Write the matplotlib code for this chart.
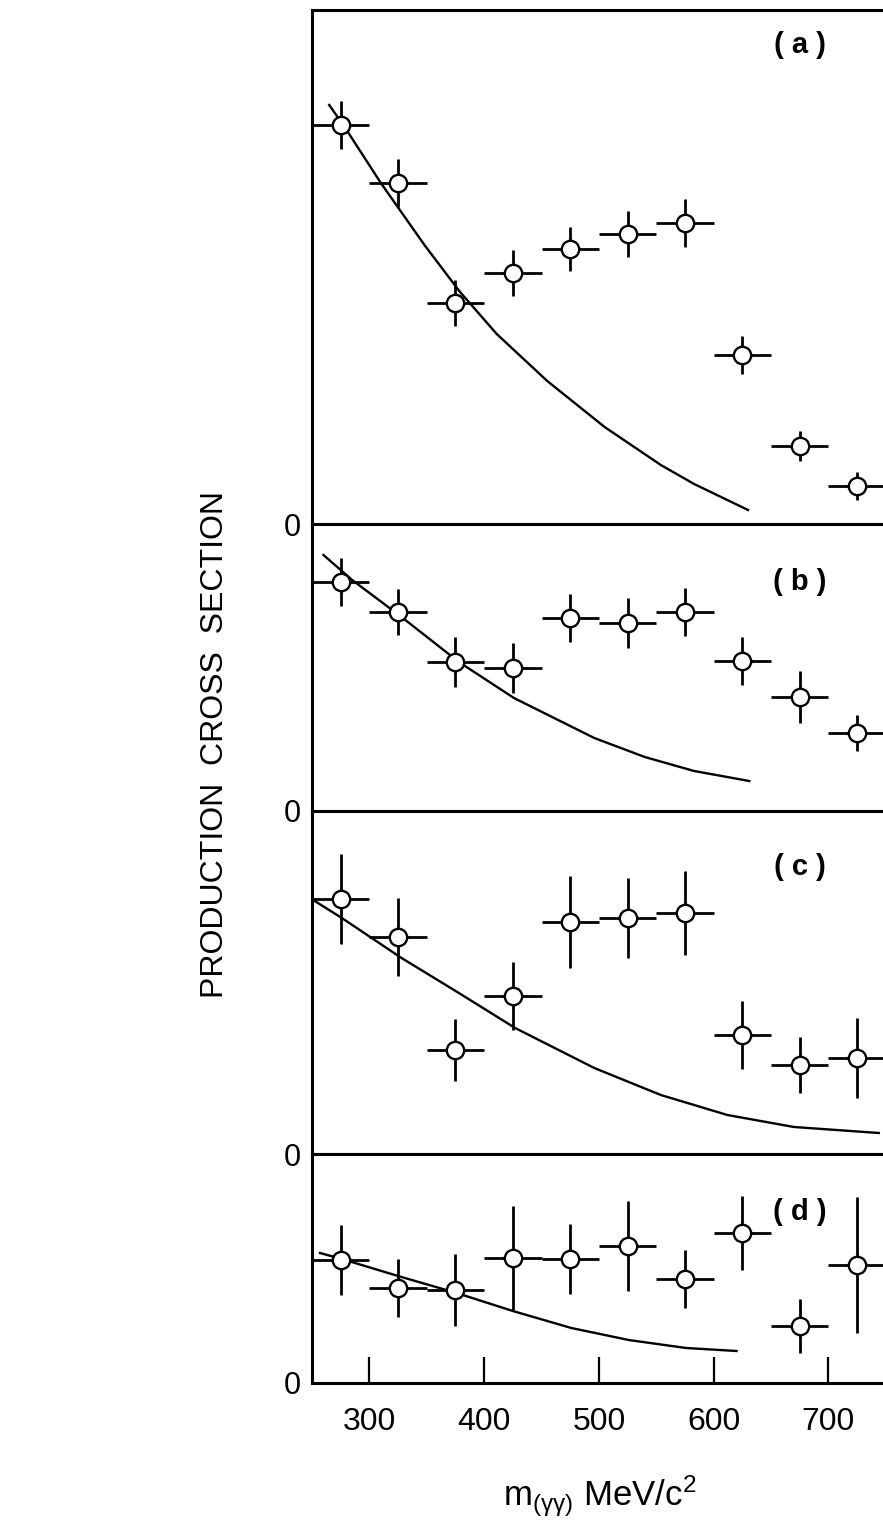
import matplotlib
matplotlib.use("Agg")
import matplotlib.pyplot as plt

plt.rcParams['font.family'] = ['Liberation Sans', 'DejaVu Sans']
plt.rcParams['mathtext.fontset'] = 'custom'
plt.rcParams['mathtext.rm'] = 'Liberation Sans'
plt.rcParams['mathtext.it'] = 'Liberation Sans'

# ---------------- data (arbitrary units) ----------------
mass = [275, 325, 375, 425, 475, 525, 575, 625, 675, 725]   # MeV/c^2, bin centres
half_bin = 25

a_y   = [39.9, 34.1, 22.1, 25.1, 27.5, 29.0, 30.1, 16.9, 7.8, 3.8]
a_err = [2.4, 2.4, 2.3, 2.3, 2.2, 2.3, 2.4, 1.9, 1.5, 1.4]
b_y   = [22.9, 19.9, 14.9, 14.3, 19.3, 18.8, 19.9, 15.0, 11.4, 7.8]
b_err = [2.4, 2.3, 2.5, 2.5, 2.4, 2.5, 2.4, 2.4, 2.6, 1.8]
c_y   = [25.5, 21.7, 10.4, 15.8, 23.2, 23.6, 24.1, 11.9, 8.9, 9.6]
c_err = [4.5, 3.9, 3.1, 3.4, 4.6, 4.0, 4.2, 3.4, 2.8, 4.0]
d_y   = [12.3, 9.5, 9.3, 12.5, 12.4, 13.7, 10.4, 15.0, 5.7, 11.8]
d_err = [3.5, 2.9, 3.6, 5.2, 3.5, 4.5, 2.9, 3.7, 2.7, 6.8]

# theoretical curves
a_cm = [265, 279, 310, 348, 379, 411, 455, 505, 554, 583, 630]
a_cv = [41.9, 39.6, 34.1, 27.9, 23.2, 19.0, 14.3, 9.7, 5.9, 4.0, 1.4]
b_cm = [260, 285, 328, 378, 426, 496, 540, 583, 631]
b_cv = [25.6, 23.1, 19.4, 14.9, 11.3, 7.3, 5.4, 4.0, 3.0]
c_cm = [251, 276, 328, 378, 427, 496, 554, 612, 670, 744]
c_cv = [25.4, 23.6, 19.6, 16.1, 12.6, 8.6, 5.9, 3.9, 2.7, 2.1]
d_cm = [257, 276, 325, 376, 425, 476, 526, 576, 620]
d_cv = [13.0, 12.4, 10.7, 9.0, 7.2, 5.5, 4.3, 3.5, 3.2]

panel_labels = ['( a )', '( b )', '( c )', '( d )']
panel_ymax = [51.4, 28.7, 34.3, 22.9]
x_ticks = [300, 400, 500, 600, 700]
x_range = (250, 747.6)

# ---------------- figure ----------------
W, H = 883, 1521
fig = plt.figure(figsize=(W / 100, H / 100), dpi=100)

# panel boundaries in pixels (top, bottom)
bounds = [(10, 524), (524, 811), (811, 1154), (1154, 1383)]
left_px = 312

series = [(a_y, a_err, a_cm, a_cv), (b_y, b_err, b_cm, b_cv),
          (c_y, c_err, c_cm, c_cv), (d_y, d_err, d_cm, d_cv)]
label_y_px = [45, 582, 867, 1212]

for i, ((top, bot), (yv, ye, cm, cv)) in enumerate(zip(bounds, series)):
    ax = fig.add_axes([left_px / W, 1 - bot / H, 1 - left_px / W, (bot - top) / H])
    ax.set_xlim(*x_range)
    ax.set_ylim(0, panel_ymax[i])
    ax.plot(cm, cv, color='black', lw=1.7, zorder=2)
    ax.errorbar(mass, yv, yerr=ye, xerr=half_bin, fmt='o', ms=12.5,
                mfc='white', mec='black', mew=1.7, ecolor='black',
                elinewidth=2.0, capsize=0, zorder=3)
    for s in ['left', 'top', 'bottom']:
        ax.spines[s].set_linewidth(2.2)
    ax.spines['right'].set_visible(False)
    ax.set_yticks([0])
    ax.set_yticklabels(['0'])
    ax.tick_params(axis='y', length=0, pad=8, labelsize=22)
    if i < 3:
        ax.set_xticks([])
    else:
        ax.set_xticks(x_ticks)
        ax.set_xticklabels([str(t) for t in x_ticks])
        ax.tick_params(axis='x', direction='in', length=19, width=1.6,
                       pad=17, labelsize=23)
    fig.text(800 / W, 1 - label_y_px[i] / H, panel_labels[i], ha='center',
             va='center', fontsize=21, fontweight='bold')

fig.text(215 / W, 1 - 744 / H, 'PRODUCTION  CROSS  SECTION', rotation=90,
         ha='center', va='center', fontsize=23)
fig.text(600 / W, 1 - 1496 / H, r'm$_{(\gamma\gamma)}$ MeV/c$^{2}$',
         ha='center', va='center', fontsize=25)

fig.savefig('out.png', dpi=100)
